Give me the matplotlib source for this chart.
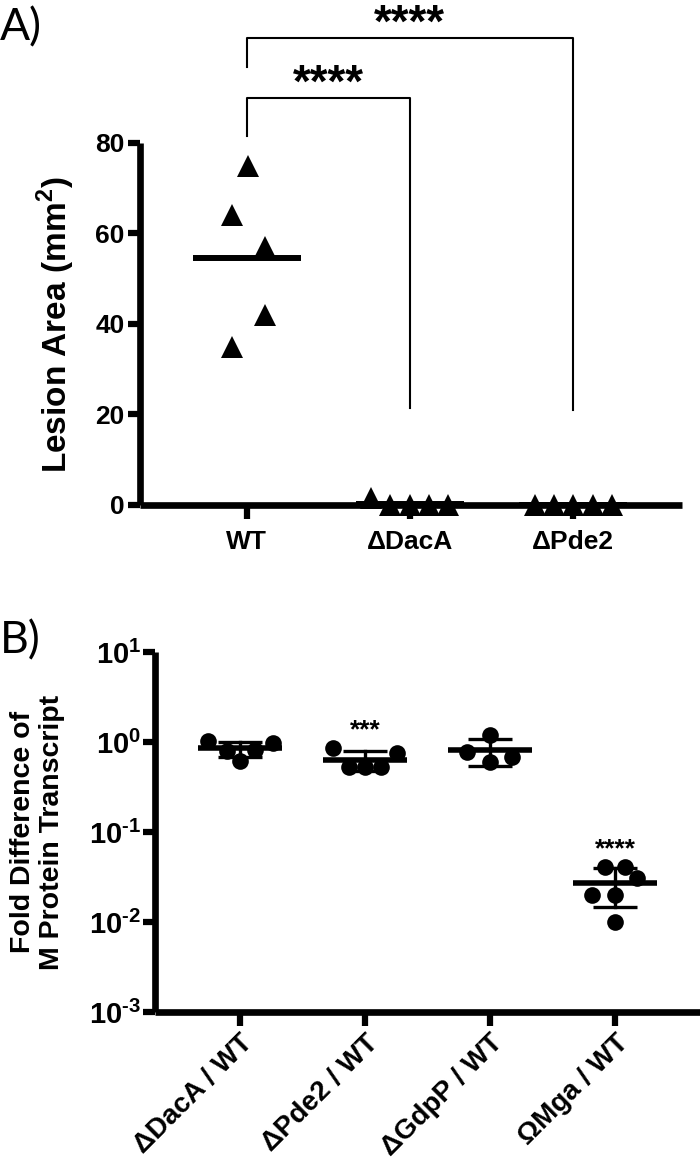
import matplotlib
matplotlib.use("Agg")
import matplotlib.pyplot as plt
import numpy as np
from matplotlib.ticker import FixedLocator, FuncFormatter, NullLocator

plt.rcParams['font.family'] = ['Liberation Sans', 'DejaVu Sans']
plt.rcParams['font.weight'] = 'bold'
plt.rcParams['mathtext.fontset'] = 'custom'
plt.rcParams['mathtext.rm'] = 'Liberation Sans:bold'
plt.rcParams['mathtext.bf'] = 'Liberation Sans:bold'

# panel A data: lesion area (mm^2)
lesion_groups = ["WT", "ΔDacA", "ΔPde2"]
wt_area = [75, 64, 57, 42, 35]
daca_area = [1.5, 0, 0, 0, 0]
pde2_area = [0, 0, 0, 0, 0]
lesion_sig = ["****", "****"]

# panel B data: fold difference of M protein transcript
ratio_groups = ["ΔDacA / WT", "ΔPde2 / WT", "ΔGdpP / WT", "ΩMga / WT"]
daca_fold = [1.03, 0.80, 0.62, 0.82, 0.97]
pde2_fold = [0.86, 0.525, 0.525, 0.525, 0.755]
gdpp_fold = [0.77, 1.20, 0.60, 0.68]
mga_fold = [0.0408, 0.0408, 0.0308, 0.020, 0.020, 0.010]
fold_sig = ["", "***", "", "****"]

# horizontal scatter of the points inside a group
jitter_a = [[0.006, -0.092, 0.11, 0.11, -0.092],
            [-0.24, -0.123, 0.0, 0.117, 0.233],
            [-0.233, -0.117, 0.0, 0.123, 0.239]]
jitter_b = [[-0.256, -0.104, 0.0, 0.12, 0.264],
            [-0.256, -0.128, 0.0, 0.128, 0.256],
            [-0.18, 0.0, 0.0, 0.18],
            [-0.08, 0.08, 0.18, -0.18, 0.0, 0.0]]

fig = plt.figure(figsize=(7, 11.6), dpi=100)

# ---------------- panel A ----------------
axa = fig.add_axes([0.2, 0.5647, 0.7743, 0.3121])
area_sets = [wt_area, daca_area, pde2_area]
for i, vals in enumerate(area_sets):
  xs = [i + j for j in jitter_a[i]]
  axa.plot(xs, vals, linestyle='none', marker='^', markersize=15.5,
           markeredgewidth=0, color='black', clip_on=False, zorder=3)
  m = np.mean(vals)
  axa.plot([i - 0.33, i + 0.33], [m, m], color='black', lw=4.3,
           solid_capstyle='butt', clip_on=False, zorder=4)

axa.set_xlim(-0.656, 2.67)
axa.set_ylim(0, 80)
axa.set_xticks(range(len(lesion_groups)))
axa.set_xticklabels(lesion_groups, fontsize=19, fontweight='bold')
axa.set_yticks([0, 20, 40, 60, 80])
axa.tick_params(axis='y', labelsize=19, width=4.5, length=9, pad=2)
axa.tick_params(axis='x', width=4.5, length=10, pad=8)
for lab in axa.get_yticklabels():
  lab.set_fontweight('bold')
for s in ['top', 'right']:
  axa.spines[s].set_visible(False)
for s in ['left', 'bottom']:
  axa.spines[s].set_linewidth(4.8)
  axa.spines[s].set_capstyle('butt')

fig.text(0.08, 0.7198, "Lesion Area (mm$^{2}$)", rotation=90, ha='center',
         va='center', fontsize=24, fontweight='bold')

# significance brackets: (group a, group b, bar height, leg ends)
brackets = [(0, 1, 89.9, 81.5, 21.4), (0, 2, 103.2, 96.8, 21.0)]
for (g0, g1, top, leg0, leg1), star in zip(brackets, lesion_sig):
  axa.plot([g0, g0, g1, g1], [leg0, top, top, leg1], color='black',
           lw=1.5, clip_on=False)
  axa.annotate(star, xy=((g0 + g1) / 2.0, top), xytext=(0, 1),
               textcoords='offset points', ha='center', va='baseline',
               fontsize=33, fontweight='bold', annotation_clip=False)

fig.text(0.0, 0.9655, "A)", ha='left', va='baseline', fontsize=32,
         fontweight='normal', family=['Lato', 'DejaVu Sans'])

# ---------------- panel B ----------------
axb = fig.add_axes([0.2214, 0.1276, 0.7786, 0.3103])
fold_sets = [daca_fold, pde2_fold, gdpp_fold, mga_fold]
for i, vals in enumerate(fold_sets):
  xs = [i + j for j in jitter_b[i]]
  axb.plot(xs, vals, linestyle='none', marker='o', markersize=12,
           markeredgewidth=0, color='black', zorder=3)
  m = np.mean(vals)
  sd = np.std(vals, ddof=1)
  axb.plot([i - 0.336, i + 0.336], [m, m], color='black', lw=4,
           solid_capstyle='butt', zorder=4)
  axb.plot([i, i], [m - sd, m + sd], color='black', lw=2.4, zorder=4)
  for v in (m - sd, m + sd):
    axb.plot([i - 0.176, i + 0.176], [v, v], color='black', lw=2.4,
             solid_capstyle='butt', zorder=4)
  if fold_sig[i]:
    axb.annotate(fold_sig[i], xy=(i, max(vals)), xytext=(0, 13),
                 textcoords='offset points', ha='center', va='center',
                 fontsize=19, fontweight='bold')


def pow_label(v, pos):
  e = int(round(np.log10(v)))
  s = str(e).replace('-', r'\text{-}')
  return r'$\mathbf{10}^{\mathbf{%s}}$' % s


axb.set_yscale('log')
axb.set_ylim(1e-3, 1e1)
axb.set_xlim(-0.68, 3.68)
axb.yaxis.set_major_locator(FixedLocator([1e-3, 1e-2, 1e-1, 1e0, 1e1]))
axb.yaxis.set_minor_locator(NullLocator())
axb.yaxis.set_major_formatter(FuncFormatter(pow_label))
axb.set_xticks(range(len(ratio_groups)))
axb.set_xticklabels(ratio_groups, rotation=45, ha='right', va='top',
                    rotation_mode='anchor', fontsize=20, fontweight='bold')
axb.tick_params(axis='y', labelsize=21, width=4.5, length=9, pad=1)
axb.tick_params(axis='x', width=4.5, length=10, pad=3)
for s in ['top', 'right']:
  axb.spines[s].set_visible(False)
for s in ['left', 'bottom']:
  axb.spines[s].set_linewidth(4.8)
  axb.spines[s].set_capstyle('butt')

fig.text(0.053, 0.2828, "Fold Difference of\nM Protein Transcript",
         rotation=90, ha='center', va='center', fontsize=20.5,
         fontweight='bold', linespacing=1.15, multialignment='center')

fig.text(0.0, 0.4371, "B)", ha='left', va='baseline', fontsize=32,
         fontweight='normal', family=['Lato', 'DejaVu Sans'])

fig.savefig("out.png", dpi=100)
